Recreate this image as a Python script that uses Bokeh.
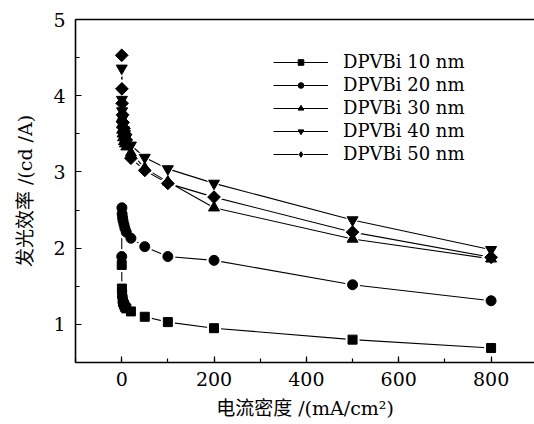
import numpy as np
from bokeh.plotting import figure
from bokeh.models import (Range1d, SingleIntervalTicker, FixedTicker, LinearAxis, Legend, LegendItem)
from bokeh.embed import file_html
from bokeh.resources import INLINE

# ---- data ----
current = [0.1, 0.5, 1, 2, 3, 5, 7, 10, 20, 50, 100, 200, 500, 800]
eff_10 = [1.78, 1.47, 1.40, 1.33, 1.29, 1.26, 1.23, 1.21, 1.17, 1.10, 1.03, 0.95, 0.80, 0.69]
eff_20 = [1.89, 2.53, 2.45, 2.40, 2.36, 2.31, 2.26, 2.21, 2.13, 2.02, 1.89, 1.84, 1.52, 1.31]
eff_30 = [3.70, 3.62, 3.55, 3.50, 3.45, 3.40, 3.37, 3.33, 3.25, 3.05, 2.87, 2.53, 2.12, 1.86]
eff_40 = [4.36, 3.95, 3.80, 3.70, 3.62, 3.55, 3.50, 3.45, 3.35, 3.19, 3.04, 2.85, 2.37, 1.98]
eff_50 = [4.53, 4.09, 3.90, 3.75, 3.65, 3.57, 3.50, 3.42, 3.18, 3.02, 2.85, 2.67, 2.21, 1.88]
labels = ["DPVBi 10 nm", "DPVBi 20 nm", "DPVBi 30 nm", "DPVBi 40 nm", "DPVBi 50 nm"]
x_title = "电流密度 /(mA/cm²)"
y_title = "发光效率 /(cd /A)"

series = [eff_10, eff_20, eff_30, eff_40, eff_50]
markers = ["square", "circle", "triangle", "inverted_triangle", "square"]
sizes = [9, 10, 11, 11, 9]
angles = [0, 0, 0, 0, np.pi / 4]

SERIF = "DejaVu Serif"
CJK = "DejaVu Serif, Noto Sans CJK SC"

p = figure(width=534, height=424, output_backend="svg", toolbar_location=None,
           x_range=Range1d(-100, 894), y_range=Range1d(0.5, 5.0),
           min_border_left=75, min_border_right=0, min_border_top=19, min_border_bottom=62,
           x_axis_location=None, y_axis_location=None)
p.outline_line_color = None
p.grid.visible = False
p.background_fill_color = "white"
p.border_fill_color = "white"

def style_axis(ax, font_size="19px"):
    ax.axis_line_width = 1.6
    ax.axis_line_color = "black"
    ax.major_tick_in = 6
    ax.major_tick_out = 0
    ax.minor_tick_in = 4
    ax.minor_tick_out = 0
    ax.major_tick_line_color = "black"
    ax.minor_tick_line_color = "black"
    ax.major_tick_line_width = 1.2
    ax.minor_tick_line_width = 1.2
    ax.major_label_text_font = SERIF
    ax.major_label_text_font_size = font_size
    ax.major_label_text_color = "black"
    ax.axis_label_text_font = CJK
    ax.axis_label_text_font_size = "19px"
    ax.axis_label_text_font_style = "normal"
    ax.axis_label_text_color = "black"

xax = LinearAxis(ticker=SingleIntervalTicker(interval=200, num_minor_ticks=2), axis_label=x_title)
style_axis(xax)
xax.major_label_standoff = 9
xax.axis_label_standoff = 8
p.add_layout(xax, "below")

yax = LinearAxis(ticker=SingleIntervalTicker(interval=1, num_minor_ticks=2), axis_label=y_title)
style_axis(yax)
yax.major_label_standoff = 10
yax.axis_label_standoff = 14
p.add_layout(yax, "left")

tax = LinearAxis(ticker=FixedTicker(ticks=[], minor_ticks=[]))
tax.axis_line_width = 1.6
tax.axis_line_color = "black"
tax.major_label_standoff = 0
tax.major_tick_in = 0
tax.major_tick_out = 0
tax.minor_tick_in = 0
tax.minor_tick_out = 0
p.add_layout(tax, "above")

lines, halos, marks = [], [], []
for ys in series:
    lines.append(p.line(current, ys, line_color="black", line_width=1.1))
for ys, m, s, a in zip(series, markers, sizes, angles):
    halos.append(p.scatter(current, ys, marker=m, size=s + 5, angle=a,
                           fill_color="white", line_color=None))
# diamond shape for the 50 nm legend entry (hidden under the rotated squares)
legend_diamond = p.scatter(current, eff_50, marker="diamond", size=11,
                           fill_color="black", line_color="black")
for ys, m, s, a in zip(series, markers, sizes, angles):
    marks.append(p.scatter(current, ys, marker=m, size=s, angle=a,
                           fill_color="black", line_color="black"))

legend_marks = marks[:4] + [legend_diamond]
items = [LegendItem(label=lab, renderers=[l, h, mk])
         for lab, l, h, mk in zip(labels, lines, halos, legend_marks)]
legend = Legend(items=items, location=(198, 197))
legend.background_fill_alpha = 0
legend.border_line_color = None
legend.padding = 0
legend.margin = 0
legend.spacing = 0
legend.glyph_width = 55
legend.glyph_height = 14
legend.label_height = 23
legend.label_standoff = 15
legend.label_text_font = SERIF
legend.label_text_font_size = "18px"
legend.label_text_color = "black"
p.add_layout(legend, "center")

open("out.html", "w").write(file_html(p, INLINE))
